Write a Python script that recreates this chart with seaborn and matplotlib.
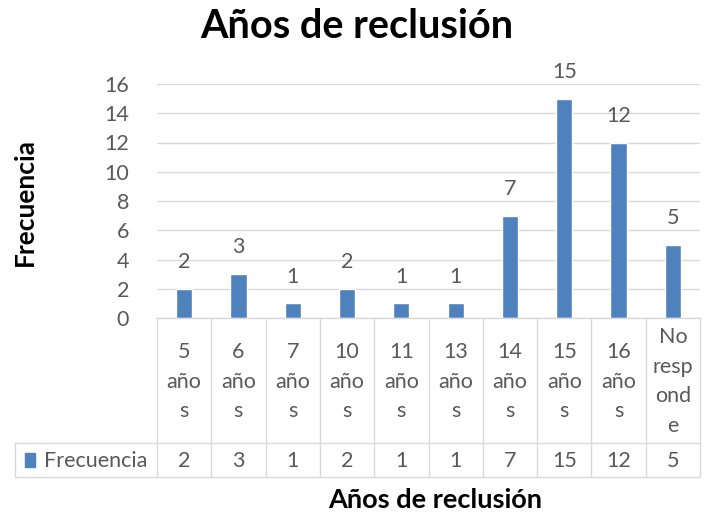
import matplotlib
matplotlib.use("Agg")
import matplotlib.pyplot as plt
import matplotlib.transforms as mtransforms
import seaborn as sns
import pandas as pd

categories = ["5\naño\ns", "6\naño\ns", "7\naño\ns", "10\naño\ns", "11\naño\ns",
              "13\naño\ns", "14\naño\ns", "15\naño\ns", "16\naño\ns", "No\nresp\nond\ne"]
values = [2, 3, 1, 2, 1, 1, 7, 15, 12, 5]
yticks = [0, 2, 4, 6, 8, 10, 12, 14, 16]
series_name = "Frecuencia"

BAR = "#4F81BD"
TXT = "#595959"
GRID = "#D9D9D9"
FS = 15.5

sns.set_theme(style="white")
plt.rcParams["font.family"] = ["Lato", "DejaVu Sans"]

df = pd.DataFrame({"cat": categories, "val": values})

W, H = 707, 519
fig = plt.figure(figsize=(W / 100, H / 100), dpi=100)
left, right, top, bottom = 157, 700, 84, 318
ax = fig.add_axes([left / W, 1 - bottom / H, (right - left) / W, (bottom - top) / H])

sns.barplot(data=df, x="cat", y="val", color=BAR, width=0.3, saturation=1, ax=ax)
ax.set_ylim(0, 16)
ax.set_xlim(-0.5, len(categories) - 0.5)
ax.set_yticks(yticks)
ax.set_yticklabels([str(t) for t in yticks], fontsize=FS, color=TXT)
ax.tick_params(axis="y", length=0, pad=20)
ax.set_xticks([])
ax.set_xlabel("")
ax.set_ylabel("")
ax.yaxis.grid(True, color=GRID, linewidth=1)
ax.set_axisbelow(True)
for s in ["top", "right", "left"]:
    ax.spines[s].set_visible(False)
ax.spines["bottom"].set_color(GRID)
ax.spines["bottom"].set_linewidth(1)

# value labels above bars
for i, v in enumerate(values):
    ax.annotate(str(v), (i, v), xytext=(0, 12), textcoords="offset points",
                ha="center", va="bottom", fontsize=FS, color=TXT)

# data table under the plot, in pixel rows
def fy(py):
    return 1 - py / H

row1_top, row1_bot, row2_bot = 318, 443, 477
legend_left = 15
trans_x = mtransforms.blended_transform_factory(ax.transData, fig.transFigure)
n = len(categories)
for k in range(n + 1):
    xb = k - 0.5
    ax.plot([xb, xb], [fy(row1_top), fy(row2_bot)], transform=trans_x,
            color=GRID, lw=1, clip_on=False)
fig.add_artist(plt.Line2D([legend_left / W, right / W], [fy(row1_bot)] * 2, color=GRID, lw=1))
fig.add_artist(plt.Line2D([legend_left / W, right / W], [fy(row2_bot)] * 2, color=GRID, lw=1))
fig.add_artist(plt.Line2D([legend_left / W] * 2, [fy(row1_bot), fy(row2_bot)], color=GRID, lw=1))

for i, (c, v) in enumerate(zip(categories, values)):
    ax.text(i, fy((row1_top + row1_bot) / 2 + 1), c, transform=trans_x, ha="center",
            va="center", fontsize=FS, color=TXT, linespacing=1.6)
    ax.text(i, fy((row1_bot + row2_bot) / 2 + 1), str(v), transform=trans_x, ha="center",
            va="center", fontsize=FS, color=TXT)

# legend key in the table row
fig.patches.append(plt.Rectangle((25 / W, fy(467)), 10 / W, 14 / H, color=BAR,
                                 transform=fig.transFigure, figure=fig))
fig.text(44 / W, fy((row1_bot + row2_bot) / 2 + 1), series_name, ha="left", va="center",
         fontsize=FS, color=TXT)

fig.text(357 / W, fy(27), "Años de reclusión", ha="center", va="center",
         fontsize=28.5, fontweight="bold", color="black")
fig.text(435 / W, fy(500), "Años de reclusión", ha="center", va="center",
         fontsize=19.5, fontweight="bold", color="black")
fig.text(25 / W, fy(202), "Frecuencia", ha="center", va="center", rotation=90,
         fontsize=19, fontweight="bold", color="black")

fig.savefig("out.png", dpi=100)
